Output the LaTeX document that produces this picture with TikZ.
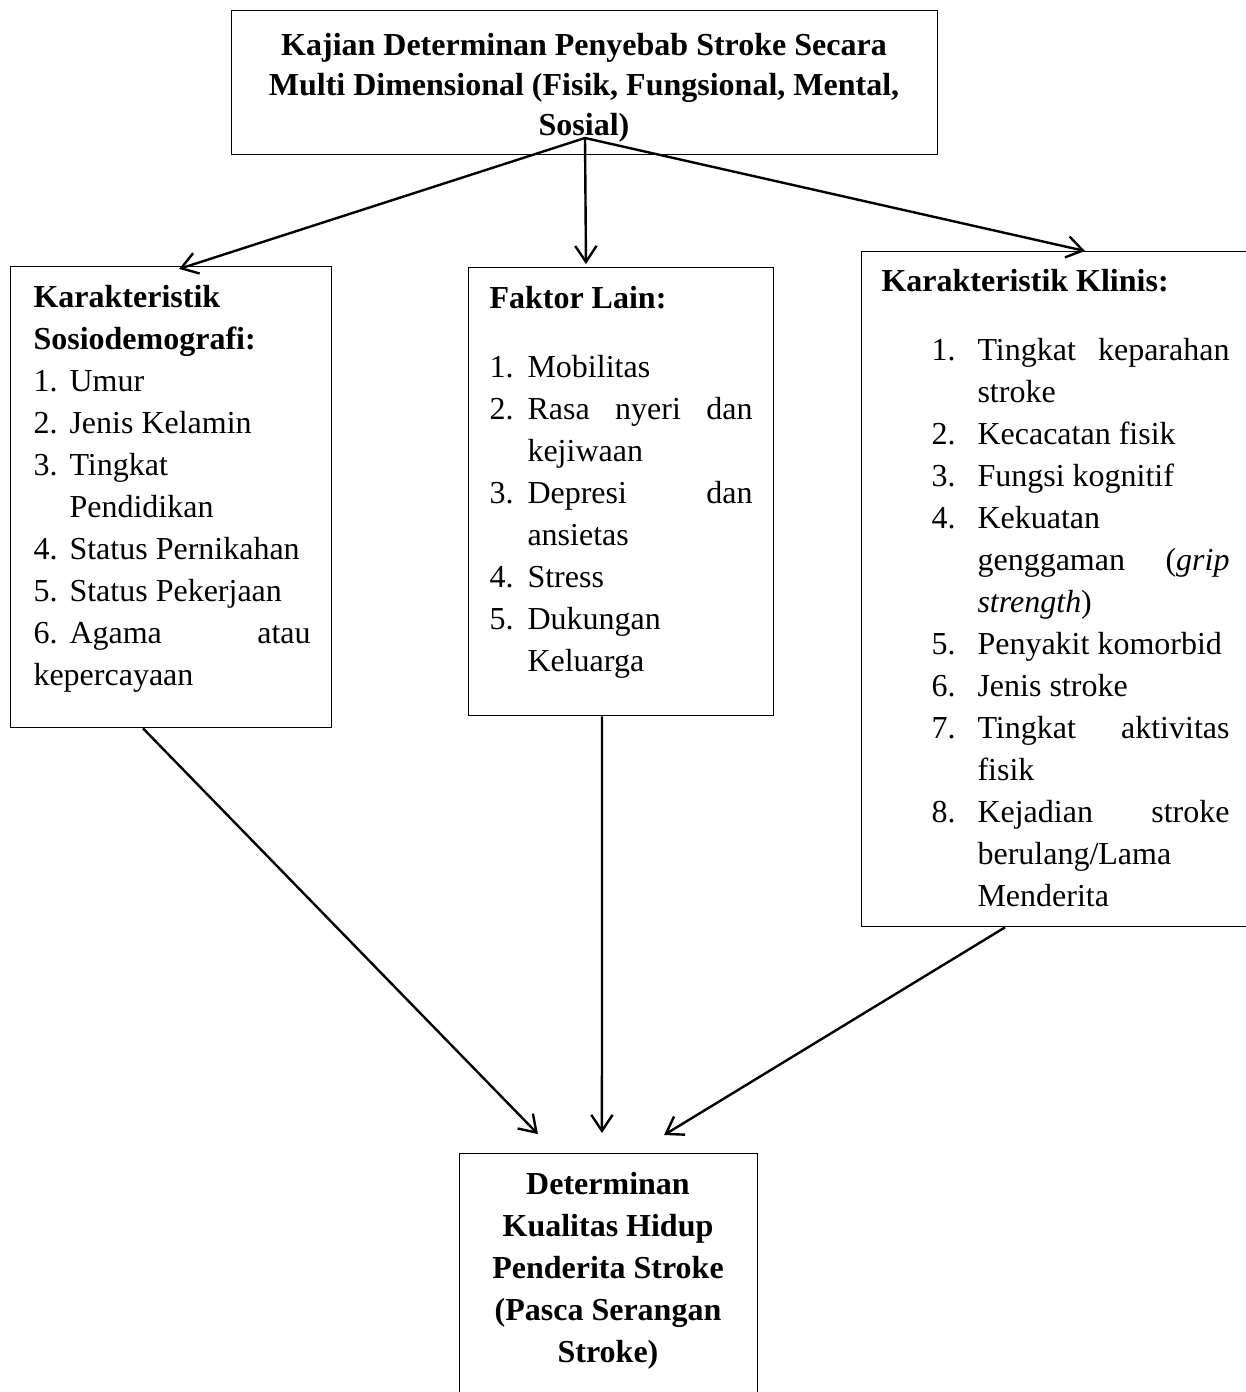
\documentclass[tikz,border=0pt]{standalone}
\usepackage{fontspec}
\setmainfont{Liberation Serif}
\usetikzlibrary{arrows.meta}

% list helpers: number start, text start, width of a justified line
\newlength{\numx}
\newlength{\txtx}
\newlength{\jw}
\newcommand{\itm}[1]{\hspace*{\numx}\makebox[\dimexpr\txtx-\numx\relax][l]{#1}}
\newcommand{\cnt}{\hspace*{\txtx}}
\newcommand{\jst}[1]{\makebox[\jw][s]{#1}}

\begin{document}
\begin{tikzpicture}[x=0.375pt, y=-0.375pt,
                box/.style={draw, line width=0.5pt, rectangle, anchor=north west, inner sep=0pt},
                txt/.style={anchor=base west, inner sep=0pt, align=left, font=\fontsize{12}{15.75}\selectfont},
                ctxt/.style={anchor=base, inner sep=0pt, align=center, font=\fontsize{12}{15.75}\selectfont\bfseries},
                lst/.style n args={3}{/utils/exec={\setlength{\numx}{#1}\setlength{\txtx}{#2}\setlength{\jw}{#3}}},
                arrow/.style={-{Straight Barb[length=6pt,width=8pt]}, line width=0.9pt}]

                \useasboundingbox (0,0) rectangle (1246,1392);

                % boxes
                \node[box, minimum width=264.75pt, minimum height=54pt] (kajian) at (231,10) {};
                \node[box, minimum width=120.375pt, minimum height=172.875pt] (sosio) at (10,266) {};
                \node[box, minimum width=114.375pt, minimum height=168pt] (faktor) at (468,267) {};
                \node[box, minimum width=150pt, minimum height=253.125pt] (klinis) at (861,251) {};
                \node[box, minimum width=111.75pt, minimum height=97.5pt] (kualitas) at (459,1153) {};

                % texts (placed by the baseline of their last line)
                \node[ctxt, font=\fontsize{12}{15}\selectfont\bfseries] (kajiantxt) at (584,135)
                    {Kajian Determinan Penyebab Stroke Secara\\Multi Dimensional (Fisik, Fungsional, Mental,\\Sosial)};

                \node[txt, lst={0pt}{13.5pt}{90.4pt}] (sosiotxt) at (33,685)
                    {\textbf{Karakteristik}\\
                     \textbf{Sosiodemografi:}\\
                     \itm{1.}Umur\\
                     \itm{2.}Jenis Kelamin\\
                     \itm{3.}Tingkat\\
                     \cnt Pendidikan\\
                     \itm{4.}Status Pernikahan\\
                     \itm{5.}Status Pekerjaan\\
                     \itm{6.}\jst{Agama atau}\\
                     kepercayaan};

                \node[txt, lst={0pt}{14.25pt}{84.4pt}] (faktortxt) at (489,671)
                    {\textbf{Faktor Lain:}\\[10.1pt]
                     \itm{1.}Mobilitas\\
                     \itm{2.}\jst{Rasa nyeri dan}\\
                     \cnt kejiwaan\\
                     \itm{3.}\jst{Depresi dan}\\
                     \cnt ansietas\\
                     \itm{4.}Stress\\
                     \itm{5.}Dukungan\\
                     \cnt Keluarga};

                \node[txt, lst={18.75pt}{36pt}{94.5pt}] (klinistxt) at (881,906)
                    {\textbf{Karakteristik Klinis:}\\[10.1pt]
                     \itm{1.}\jst{Tingkat keparahan}\\
                     \cnt stroke\\
                     \itm{2.}Kecacatan fisik\\
                     \itm{3.}Fungsi kognitif\\
                     \itm{4.}Kekuatan\\
                     \cnt\jst{genggaman (\textit{grip}}\\
                     \cnt\textit{strength})\\
                     \itm{5.}Penyakit komorbid\\
                     \itm{6.}Jenis stroke\\
                     \itm{7.}\jst{Tingkat aktivitas}\\
                     \cnt fisik\\
                     \itm{8.}\jst{Kejadian stroke}\\
                     \cnt berulang/Lama\\
                     \cnt Menderita};

                \node[ctxt] (kualitastxt) at (608,1362)
                    {Determinan\\Kualitas Hidup\\Penderita Stroke\\(Pasca Serangan\\Stroke)};

                % arrow ends
                \coordinate (src) at ([xshift=132.75pt, yshift=-48pt]kajian.north west);
                \coordinate (sosio-in) at ([xshift=63.4pt, yshift=-1.1pt]sosio.north west);
                \coordinate (faktor-in) at ([xshift=44.25pt, yshift=1.1pt]faktor.north west);
                \coordinate (klinis-in) at ([xshift=84pt]klinis.north west);
                \coordinate (sosio-out) at ([xshift=49.875pt]sosio.south west);
                \coordinate (faktor-out) at ([xshift=50.25pt]faktor.south west);
                \coordinate (klinis-out) at ([xshift=54pt]klinis.south west);
                \coordinate (kual-l) at ([xshift=29.6pt, yshift=7.1pt]kualitas.north west);
                \coordinate (kual-m) at ([xshift=53.6pt, yshift=7.5pt]kualitas.north west);
                \coordinate (kual-r) at ([xshift=76.9pt, yshift=6.75pt]kualitas.north west);

                \draw[arrow] (src) -- (sosio-in);
                \draw[arrow] (src) -- (faktor-in);
                \draw[arrow] (src) -- (klinis-in);
                \draw[arrow] (sosio-out) -- (kual-l);
                \draw[arrow] (faktor-out) -- (kual-m);
                \draw[arrow] (klinis-out) -- (kual-r);
            \end{tikzpicture}
\end{document}
